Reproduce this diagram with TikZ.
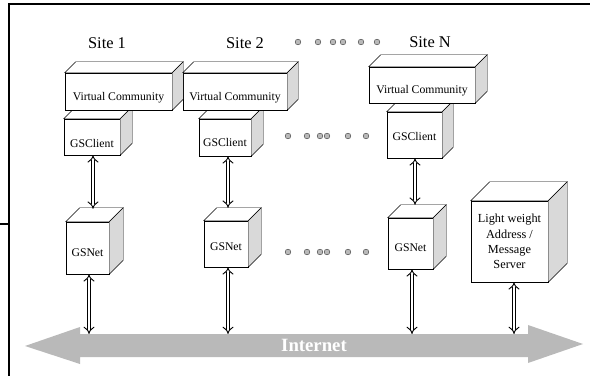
\documentclass[tikz,border=0pt]{standalone}
\usepackage{fontspec}
\setmainfont{Liberation Serif}
\usetikzlibrary{calc,arrows.meta}

\tikzset{
  cube/.style={draw=black, fill=white, inner sep=1pt, font=\fontsize{10}{12}\selectfont},
  link/.style={double, double distance=2.4pt, line width=0.8pt, {Implies}-{Implies}},
  sitelabel/.style={font=\fontsize{14}{16}\selectfont},
  ellip/.style={circle, draw=gray!60!black, fill=gray!55, inner sep=0pt, minimum size=0.17cm},
}

% top and side face of a box node: #1 node, #2 depth
\newcommand{\cubefaces}[2]{%
  \draw[fill=white] (#1.north west) -- ++(#2,-#2) -- ($(#1.north east)+(#2,-#2)$) -- (#1.north east) -- cycle;
  \draw[fill=gray!30] (#1.north east) -- ++(#2,-#2) -- ($(#1.south east)+(#2,-#2)$) -- (#1.south east) -- cycle;}

\begin{document}
\begin{tikzpicture}[x=0.03cm, y=-0.03cm]
			\useasboundingbox (0,0) rectangle (590,376);
			\draw[line width=0.9pt] (9,376) -- (9,4) -- (590,4);
			\draw[line width=0.9pt] (0,224) -- (9,224);
			
			\node[sitelabel] (s1) at (107,43) {Site 1};
			\node[sitelabel] (s2) at (245,43) {Site 2};
			\node[sitelabel] (sN) at (430,42) {Site N};
			
			\node[cube, text height=18pt, minimum width=1.68cm, minimum height=1.08cm] (gc1) at (92,137) {GSClient};
			\node[cube, text height=16pt, minimum width=1.56cm, minimum height=1.11cm] (gc2) at (225,137.5) {GSClient};
			\node[cube, text height=10pt, minimum width=1.65cm, minimum height=1.38cm] (gcN) at (414.5,135) {GSClient};
			\cubefaces{gc1}{12}
			\cubefaces{gc2}{12}
			\cubefaces{gcN}{11}
			
			\node[cube, text height=17pt, minimum width=3.21cm, minimum height=1.11cm] (vc1) at (118.5,91.5) {Virtual Community};
			\node[cube, text height=17pt, minimum width=3.12cm, minimum height=1.11cm] (vc2) at (235,91.5) {Virtual Community};
			\node[cube, text height=17pt, minimum width=3.18cm, minimum height=1.08cm] (vcN) at (422,85) {Virtual Community};
			\cubefaces{vc1}{11}
			\cubefaces{vc2}{11}
			\cubefaces{vcN}{12}
			
			\node[cube, text height=14pt, minimum width=1.29cm, minimum height=1.56cm] (gn1) at (87.5,248) {GSNet};
			\node[cube, text height=12pt, minimum width=1.32cm, minimum height=1.38cm] (gn2) at (226,244) {GSNet};
			\node[cube, text height=14pt, minimum width=1.35cm, minimum height=1.53cm] (gnN) at (410.5,243.5) {GSNet};
			\node[cube, minimum width=2.31cm, minimum height=2.43cm, align=center,
				font=\fontsize{10.5}{13}\selectfont] (srv) at (509.5,241.5) {Light weight\\Address /\\Message\\Server};
			\cubefaces{gn1}{14}
			\cubefaces{gn2}{13}
			\cubefaces{gnN}{13}
			\cubefaces{srv}{19}
			
			% the internet backbone
			\fill[gray!55] (25,346) -- (80,327) -- (80,334) -- (528,334) -- (528,325) -- (583,344)
				-- (528,363) -- (528,357) -- (80,357) -- (80,364) -- cycle;
			\node[text=white, font=\fontsize{16}{18}\selectfont\bfseries] (net) at (314,345.5) {Internet};
			\coordinate (netTop) at (0,334);
			
			\foreach \x in {298,318,333,343,361,377} \node[ellip] at (\x,42) {};
			\foreach \x in {288,307,320,327,348,366} \node[ellip] at (\x,136) {};
			\foreach \x in {288,307,320,327,348,366} \node[ellip] at (\x,252) {};
			
			\draw[link] ($(gc1.south)+(1,0)$) -- ($(gc1.south |- gn1.north)+(1,-13)$);
			\draw[link] ($(gc2.south)+(3,0)$) -- ($(gc2.south |- gn2.north)+(3,-13)$);
			\draw[link] ($(gcN.south)+(0.5,0)$) -- ($(gcN.south |- gnN.north)+(0.5,-13)$);
			\draw[link] ($(gn1.south)+(1.5,0)$) -- ($(gn1.south |- netTop)+(1.5,0)$);
			\draw[link] ($(gn2.south)+(2,0)$) -- ($(gn2.south |- netTop)+(2,0)$);
			\draw[link] ($(gnN.south)+(1.5,0)$) -- ($(gnN.south |- netTop)+(1.5,0)$);
			\draw[link] ($(srv.south)+(4.5,0)$) -- ($(srv.south |- netTop)+(4.5,0)$);
		\end{tikzpicture}
\end{document}
